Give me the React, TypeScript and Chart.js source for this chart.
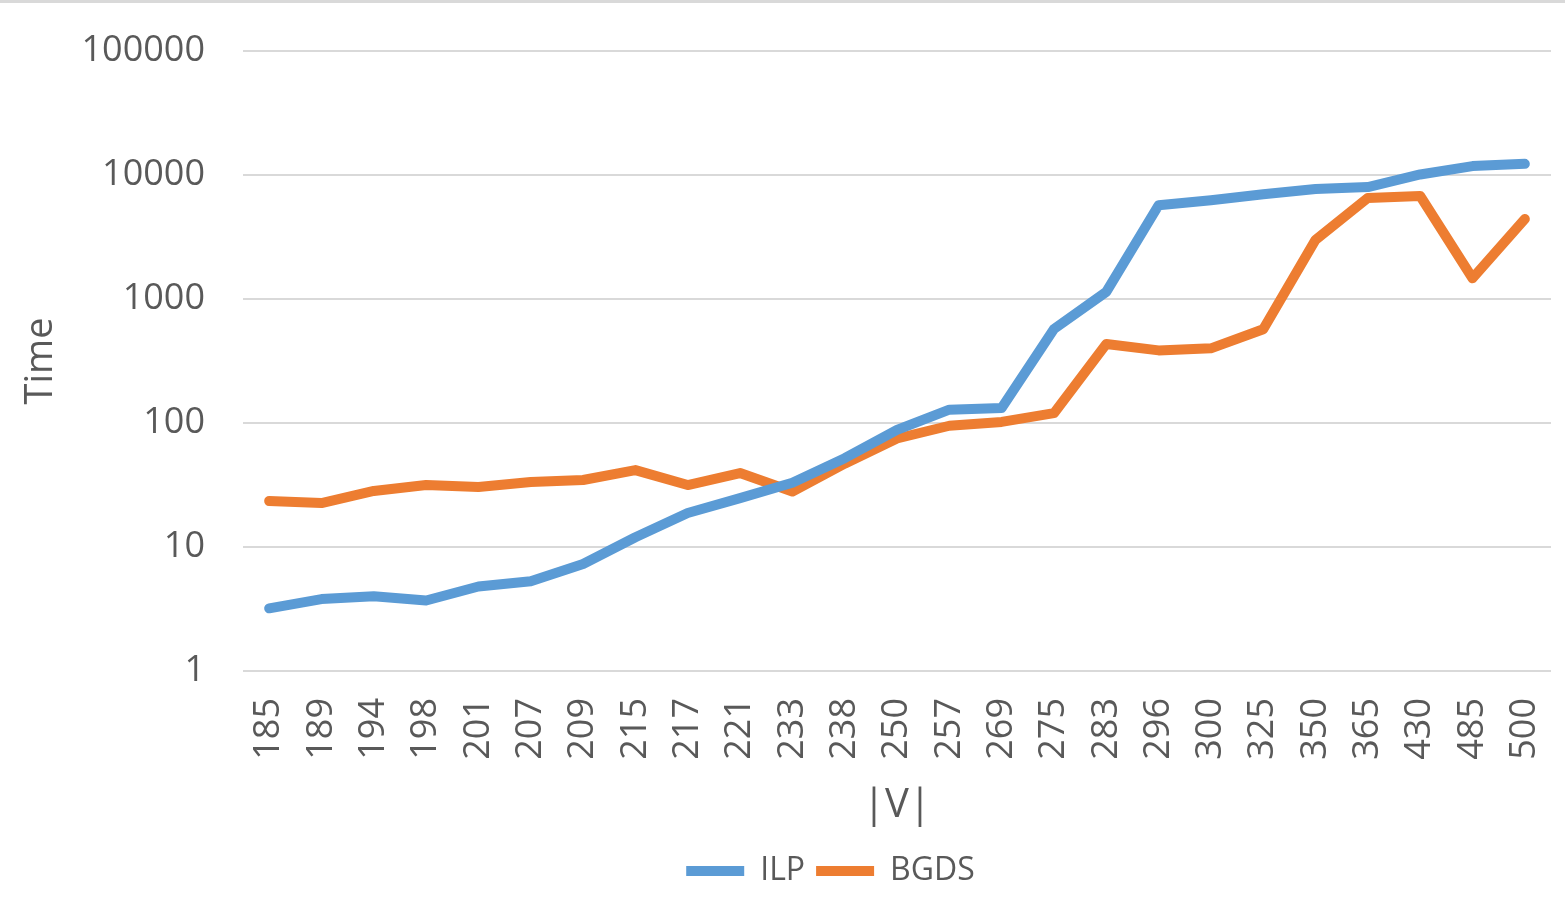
import React, { useEffect, useRef } from "react";
import Chart from "chart.js/auto";

// |V| categories along the x axis
const categories = [
  "185", "189", "194", "198", "201", "207", "209", "215", "217", "221", "233", "238", "250",
  "257", "269", "275", "283", "296", "300", "325", "350", "365", "430", "485", "500",
];

// running times (log scale)
const ilpTimes = [
  3.2, 3.8, 4.0, 3.7, 4.8, 5.3, 7.3, 12, 18.8, 24.8, 33, 52, 88,
  128, 132, 573, 1140, 5700, 6250, 7000, 7700, 8000, 10100, 11800, 12300,
];
const bgdsTimes = [
  23.5, 22.6, 28.3, 31.6, 30.5, 33.4, 34.7, 41.7, 31.6, 39.5, 28, 47, 75,
  95, 102, 120, 434, 385, 400, 570, 3000, 6530, 6770, 1470, 4420,
];

const yTicks = [1, 10, 100, 1000, 10000, 100000];

const GREY = "#595959";
const FONT = "'Open Sans', sans-serif";
const NARROW = "'Liberation Sans Narrow', 'Open Sans', sans-serif";

// nudge the legend so it sits where Excel put it
const legendShift = {
  id: "legendShift",
  afterLayout(chart: any) {
    const lg = chart.legend;
    if (!lg) return;
    lg.left += 46;
    lg.right += 46;
  },
};

export default function App() {
  const canvasRef = useRef<HTMLCanvasElement | null>(null);

  useEffect(() => {
    document.body.style.margin = "0";
    if (!canvasRef.current) return;

    const chart = new Chart(canvasRef.current, {
      type: "line",
      data: {
        labels: categories,
        datasets: [
          {
            label: "ILP",
            data: ilpTimes,
            borderColor: "#5b9bd5",
            backgroundColor: "#5b9bd5",
            borderWidth: 10,
            pointRadius: 0,
            borderCapStyle: "round",
            borderJoinStyle: "round",
          },
          {
            label: "BGDS",
            data: bgdsTimes,
            borderColor: "#ed7d31",
            backgroundColor: "#ed7d31",
            borderWidth: 10,
            pointRadius: 0,
            borderCapStyle: "round",
            borderJoinStyle: "round",
          },
        ],
      },
      options: {
        responsive: false,
        animation: false,
        devicePixelRatio: 1,
        layout: { padding: { top: 51, left: 18, right: 14, bottom: 9 } },
        plugins: {
          legend: {
            position: "bottom",
            labels: {
              usePointStyle: true,
              pointStyle: "line",
              pointStyleWidth: 58,
              color: GREY,
              font: { family: NARROW, size: 32 },
              padding: 11,
            },
          },
          tooltip: { enabled: false },
        },
        scales: {
          x: {
            offset: true,
            grid: { display: false },
            border: { display: false },
            afterFit: (scale: any) => {
              scale.height = 173;
              scale.paddingLeft = 0;
              scale.paddingRight = 0;
            },
            ticks: {
              autoSkip: false,
              minRotation: 90,
              maxRotation: 90,
              padding: 19,
              color: GREY,
              font: { family: FONT, size: 36 },
            },
            title: {
              display: true,
              text: "|V|",
              color: GREY,
              font: { family: NARROW, size: 40 },
              padding: { top: 0, bottom: 14 },
            },
          },
          y: {
            type: "logarithmic",
            min: 1,
            max: 100000,
            afterBuildTicks: (scale: any) => {
              scale.ticks = yTicks.map((v) => ({ value: v }));
            },
            afterFit: (scale: any) => {
              scale.width = 225;
              scale.paddingTop = 0;
              scale.paddingBottom = 0;
            },
            grid: { color: "#d9d9d9", lineWidth: 2, drawTicks: false },
            border: { display: false },
            ticks: {
              padding: 38,
              color: GREY,
              font: { family: FONT, size: 36 },
              callback: (v: any) => String(v),
            },
            title: {
              display: true,
              text: "Time",
              color: GREY,
              font: { family: FONT, size: 38 },
              padding: { top: 0, bottom: 19 },
            },
          },
        },
      },
      plugins: [legendShift],
    });

    return () => chart.destroy();
  }, []);

  return (
    <div style={{ position: "relative", width: 1565, height: 906, background: "#fff" }}>
      <div
        style={{ position: "absolute", top: 0, left: 0, right: 0, height: 3, background: "#d9d9d9" }}
      />
      <canvas ref={canvasRef} width={1565} height={906} style={{ display: "block" }} />
    </div>
  );
}
